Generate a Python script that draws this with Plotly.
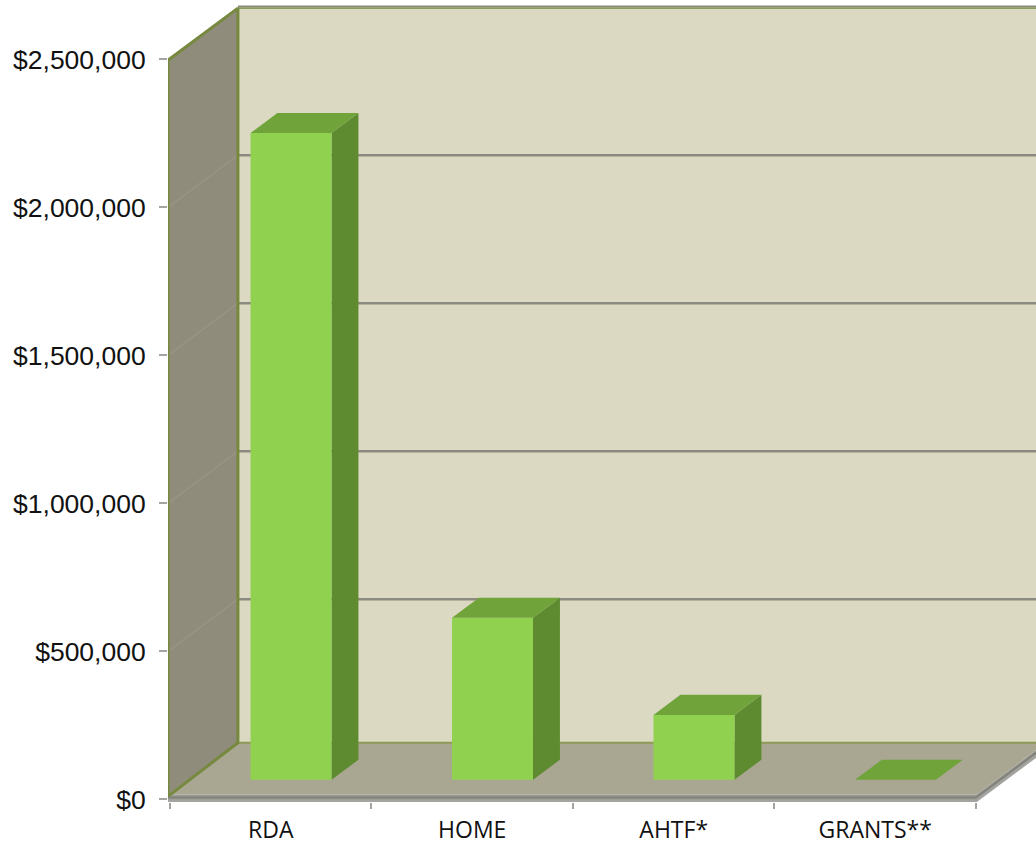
import plotly.graph_objects as go

# Funding by source
categories = ["RDA", "HOME", "AHTF*", "GRANTS**"]
amounts = [2200000, 562000, 234000, 15000]
y_ticks = [0, 500000, 1000000, 1500000, 2000000, 2500000]
grid_values = [500000, 1000000, 1500000, 2000000]

# Oblique projection: full chart depth, expressed in axis units
DEPTH_X = 0.347
DEPTH_Y = 176000
FLOOR = 15000
WALL_TOP = 2497000
X_START = -0.0099
X_END = len(categories)
BAR_WIDTH = 0.402
BAR_FRONT = 0.29
BAR_BACK = 0.675

WALL_BACK = "#dcd9c3"
WALL_SIDE = "#8f8c7b"
FLOOR_TOP = "#a9a692"
OLIVE = "#76893f"
GRID = "#8b8a80"
BAR_FACE = "#90d24f"
BAR_TOP = "#70a33a"
BAR_SIDE = "#5e8a30"
AXIS_GRAY = "#a3a3a0"


def project(x, v, depth):
    return x + depth * DEPTH_X, v + depth * DEPTH_Y


def polygon(points, fill=None, line=None, width=0):
    xs, ys = zip(*[project(*p) for p in points])
    return go.Scatter(
        x=list(xs), y=list(ys), mode="lines",
        fill="toself" if fill else "none", fillcolor=fill,
        line=dict(color=line or "rgba(0,0,0,0)", width=width),
        hoverinfo="skip", showlegend=False,
    )


fig = go.Figure()

# Back wall, side wall and floor
fig.add_trace(polygon([(X_START, FLOOR, 1), (X_END, FLOOR, 1), (X_END, WALL_TOP, 1), (X_START, WALL_TOP, 1)], WALL_BACK))
fig.add_trace(polygon([(X_START, FLOOR, 0), (X_START, FLOOR, 1), (X_START, WALL_TOP, 1), (X_START, WALL_TOP, 0)], WALL_SIDE))

# Gridlines along the back wall, faint where they cross the side wall
for v in grid_values:
    fig.add_trace(polygon([(X_START, v, 0), (X_START, v, 1)], None, "#979483", 1.5))
    fig.add_trace(polygon([(X_START, v, 1), (X_END, v, 1)], None, GRID, 2.5))

fig.add_trace(polygon([(X_START, FLOOR, 0), (X_END, FLOOR, 0), (X_END, FLOOR, 1), (X_START, FLOOR, 1)], FLOOR_TOP))

# Floor slab edges
fig.add_trace(polygon([(X_START, -9000, 0), (X_END, -9000, 0), (X_END, -9000, 1), (X_END, FLOOR, 1),
                       (X_END, FLOOR, 0), (X_START, FLOOR, 0)], "#9c9c96"))
fig.add_trace(polygon([(X_START, 6000, 0), (X_END, 6000, 0), (X_END, 6000, 1)], None, "#82827a", 2))
fig.add_trace(polygon([(X_START, -6000, 0), (X_END, -6000, 0), (X_END, -6000, 1)], None, AXIS_GRAY, 2.5))

# Wall outlines
fig.add_trace(polygon([(X_START, WALL_TOP, 1), (X_END, WALL_TOP, 1)], None, OLIVE, 1.5))
fig.add_trace(polygon([(X_START, WALL_TOP + 6000, 1), (X_END, WALL_TOP + 6000, 1)], None, GRID, 1.5))
fig.add_trace(polygon([(X_START, FLOOR, 1), (X_END, FLOOR, 1)], None, "#8e9a55", 2))
fig.add_trace(polygon([(X_START, FLOOR - 5000, 0), (X_START, WALL_TOP, 0), (X_START, WALL_TOP, 1),
                       (X_START, FLOOR, 1), (X_START, FLOOR - 5000, 0)], None, OLIVE, 3))

# Bars: side, top, then front face
for i, value in enumerate(amounts):
    left = i + 0.5 - BAR_WIDTH / 2
    right = i + 0.5 + BAR_WIDTH / 2
    if value > FLOOR:
        fig.add_trace(polygon([(right, FLOOR, BAR_FRONT), (right, FLOOR, BAR_BACK),
                               (right, value, BAR_BACK), (right, value, BAR_FRONT)], BAR_SIDE))
        fig.add_trace(polygon([(left, FLOOR, BAR_FRONT), (right, FLOOR, BAR_FRONT),
                               (right, value, BAR_FRONT), (left, value, BAR_FRONT)], BAR_FACE))
    fig.add_trace(polygon([(left, value, BAR_FRONT), (right, value, BAR_FRONT),
                           (right, value, BAR_BACK), (left, value, BAR_BACK)], BAR_TOP))

fig.update_layout(
    width=1036, height=845,
    margin=dict(l=168, r=0, t=0, b=43),
    paper_bgcolor="white", plot_bgcolor="white",
    showlegend=False,
    xaxis=dict(
        range=[-0.0099, 4.298],
        automargin=False,
        showgrid=False, zeroline=False, showline=False,
        tickmode="array",
        tickvals=[i + 0.5 for i in range(len(categories))],
        ticktext=categories,
        ticks="",
        ticklabelstandoff=12,
        tickfont=dict(family="Open Sans", size=23, color="#111111"),
        minor=dict(tickmode="array", tickvals=list(range(len(categories) + 1)),
                   ticks="outside", ticklen=6, tickwidth=1.5, tickcolor=AXIS_GRAY),
    ),
    yaxis=dict(
        range=[-9122, 2700338],
        automargin=False,
        showgrid=False, zeroline=False, showline=False,
        tickmode="array",
        tickvals=y_ticks,
        tickformat="$,.0f",
        ticks="outside", ticklen=8, tickwidth=2, tickcolor=AXIS_GRAY,
        ticklabelstandoff=8,
        tickfont=dict(family="Liberation Sans", size=26.5, color="#111111"),
    ),
)

fig.write_html("out.html")
